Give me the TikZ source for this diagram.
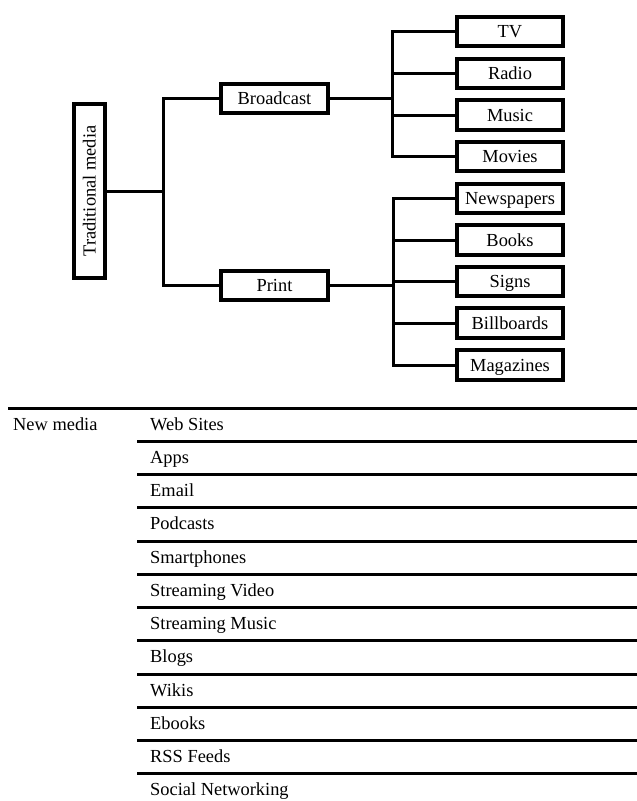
\documentclass[tikz,border=0pt]{standalone}
\usepackage{fontspec}
\setmainfont{Liberation Serif}
\begin{document}
\begin{tikzpicture}[x=1pt,y=-1pt,
  every node/.style={font=\fontsize{18.4}{22}\selectfont},
  box/.style={draw, line width=4pt, fill=white, inner sep=0pt,
    text height=15pt, text depth=3pt,
    minimum width=106.5pt, minimum height=29.5pt},
  conn/.style={line width=3pt},
  rulel/.style={line width=3pt}]
\useasboundingbox (0,0) rectangle (637,801);
% root
\node[box, rotate=90, minimum width=174pt, minimum height=31pt] (tm) at (89.5,191) {Traditional media};
\node[box, minimum width=107pt] (bc) at (274.5,98.5) {Broadcast};
\node[box, minimum width=107pt] (pr) at (274.5,285.5) {Print};
\coordinate (j1) at (163,191);
\coordinate (j2) at (392,98.5);
\coordinate (j3) at (393,285.5);
\draw[conn] (tm.south) -- (j1);
\draw[conn] (bc.west) -| (j1);
\draw[conn] (pr.west) -| (j1);
\draw[conn] (bc.east) -- (j2);
\draw[conn] (pr.east) -- (j3);
\foreach \n/\t/\y in {tv/TV/31.5, radio/Radio/73.5, music/Music/115, movies/Movies/156.5}{
  \node[box] (\n) at (510,\y) {\t};
  \draw[conn] (\n.west) -| (j2);
}
\foreach \n/\t/\y in {news/Newspapers/198.5, books/Books/240, signs/Signs/281.5, bill/Billboards/323, mag/Magazines/365}{
  \node[box] (\n) at (510,\y) {\t};
  \draw[conn] (\n.west) -| (j3);
}
% new media table
\draw[rulel] (8,408) -- (637,408);
\node[anchor=base west, inner sep=0pt] (nm) at (13,430) {New media};
\foreach \t [count=\k from 0] in {Web Sites, Apps, Email, Podcasts, Smartphones, Streaming Video, Streaming Music, Blogs, Wikis, Ebooks, RSS Feeds, Social Networking}{
  \node[anchor=base west, inner sep=0pt] (r\k) at (150,{430+33.27*\k}) {\t};
}
\foreach \k in {1,...,11}{
  \draw[rulel] (137,{408+33.27*\k}) -- (637,{408+33.27*\k});
}
\end{tikzpicture}
\end{document}
